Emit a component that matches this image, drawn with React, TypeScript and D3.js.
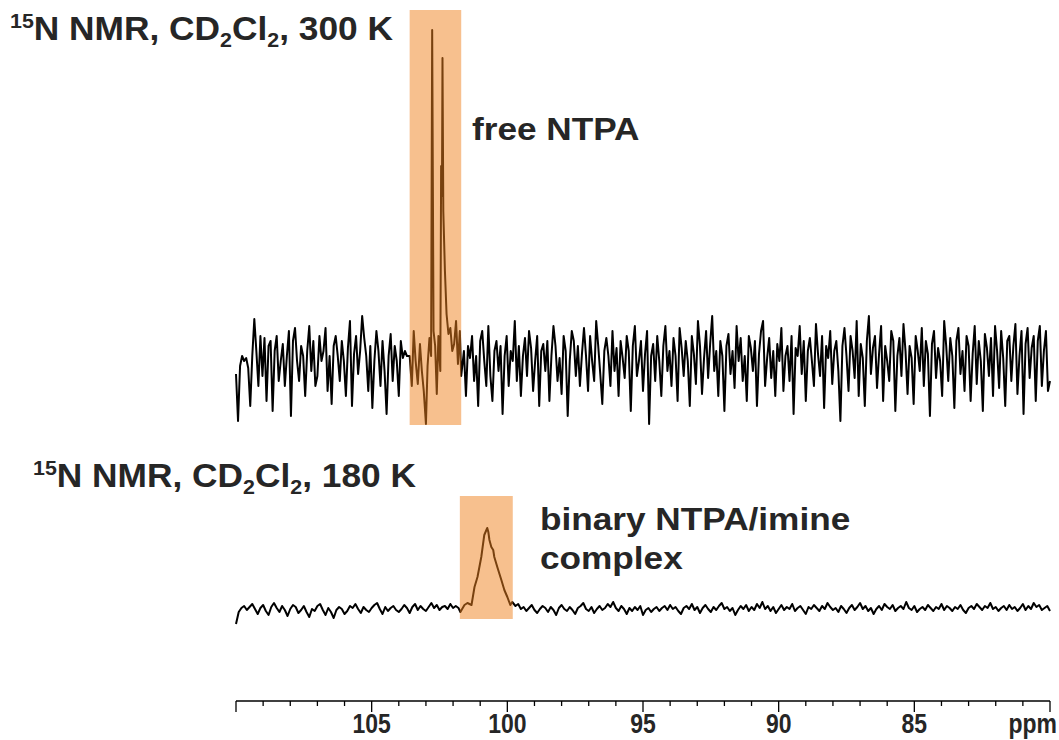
import React from "react";
import * as d3 from "d3";

// ---- data ----
const ppmDomain = [110, 80];
const tickLabels = [105, 100, 95, 90, 85];
const axisUnit = "ppm";

const topTitle = { sup: "15", parts: ["N NMR, CD", "2", "Cl", "2", ", 300 K"] };
const bottomTitle = { sup: "15", parts: ["N NMR, CD", "2", "Cl", "2", ", 180 K"] };
const topLabel = ["free NTPA"];
const bottomLabel = ["binary NTPA/imine", "complex"];

const topHighlight = [103.6, 101.7];
const bottomHighlight = [101.75, 99.8];

// top spectrum (300 K): noise from 110.0 ppm, step 0.075
const topStep = 0.075;
const topNoiseLeftStart = 110.0;
const topNoiseLeft = [
  -8, -55, 0, 10, 5, 8, -2, -40, 10, 47, 15, -20, 30, -10, 28, -35, 20, 25, -45, 15,
  30, -15, 5, 22, -20, 10, 35, -50, 25, 38, 5, -15, 20, 10, -30, 15, 40, -5, 25, -20,
  -10, 30, 5, 15, 38, -25, 10, -38, 20, 30, 10, -15, 25, 5, -30, 18, 45, -40, 12, 30,
  -8, 15, 50, 28, 10, -25, 20, -42, 5, 35, 15, -20, 25, -5, -48, 10, 32, -15, 20, 5,
  -30, 25, 8, 15, 10,
];
const topPeakPpm = [
  103.6, 103.52, 103.45, 103.38, 103.3, 103.22, 103.15, 103.08, 103.0, 102.94,
  102.87, 102.81, 102.77, 102.72, 102.66, 102.6, 102.54, 102.47, 102.44, 102.41,
  102.39, 102.36, 102.3, 102.24, 102.17, 102.1, 102.03, 101.96, 101.89, 101.82,
  101.75, 101.7,
];
const topPeakVal = [
  10, -20, 35, 5, -18, 22, -5, -25, -58, 0,
  28, 10, 336, 35, 20, -28, 30, -5, 200, 170,
  308, 155, 95, 52, 32, 38, 15, 22, 45, 2,
  35, -10,
];
const topNoiseRightStart = 101.6;
const topNoiseRight = [
  15, -30, 20, 8, 30, -15, 10, -40, 25, 35, 5, -20, 40, -10, -35, 15, 25, -5, 20, -48,
  10, 30, -20, 15, 5, 45, -15, 20, -30, 10, 28, -10, 35, 18, -25, 5, 30, -40, 15, 22,
  -5, 25, -35, 10, 40, 20, -15, 8, -28, 30, 15, -50, 5, 35, 25, -10, 20, -20, 12, 38,
  10, -25, 30, 5, -15, 45, 20, -8, -38, 15, 28, 10, -20, 35, -5, 18, -30, 25, 8, -12,
  30, 15, -45, 20, 40, -10, 5, 25, -25, 12, 35, -58, 10, 22, -15, 30, 5, -30, 20, 40,
  -5, 15, -20, 28, 10, -35, 38, 18, -10, 25, 5, -40, 30, 12, -18, 45, 20, -28, 8, 35,
  -12, 22, 50, -5, 15, -30, 25, 10, -45, 20, 32, -8, 15, -22, 40, 5, 28, -15, 10, -35,
  30, 18, -5, 25, -40, 12, 35, 45, -20, 8, 28, -12, 15, -30, 22, 5, 38, -25, 10, 20,
  -15, 30, -48, 18, 10, 40, -8, 25, -35, 15, 28, 5, -20, 42, 12, -10, 30, -42, 20, 8,
  35, -18, 15, 25, -5, -55, 20, 38, 10, -25, 30, 15, -12, 45, -30, 22, 8, -40, 25, 50,
  -8, 18, 30, -22, 12, 40, -35, 20, 5, -15, 35, 25, -45, 10, 28, -10, 42, 15, -28, 20,
  8, -38, 30, 15, -5, 38, -20, 25, 12, -50, 22, 35, -12, 18, 5, -30, 45, 20, -15, 28,
  10, -42, 25, 38, -8, 15, -25, 30, 20, -35, 12, 40, -18, 25, 5, -45, 32, 18, -10, 28,
  -30, 40, 15, -22, 35, 8, -40, 25, 30, -15, 20, 42, -28, 10, 35, -48, 22, 38, -12, 18,
  30, -35, 25, 40, -20, 15, 35, -25, -15,
];

// bottom spectrum (180 K): noise from 110.0 ppm, step 0.1
const botStep = 0.1;
const botNoiseLeftStart = 110.0;
const botNoiseLeft = [
  -12, 0, 4, 6, 2, 5, 8, 3, -2, 4, 7, 1, -3, 5, 9, 4, 0, 6, 2, -4,
  3, 7, 5, -1, 2, 6, 0, -5, 3, 1, 6, 8, 2, -3, 4, 0, -6, 2, 5, 3,
  -2, 1, 6, 4, 8, 3, -1, 5, 2, 0, 4, 7, 9, 3, -2, 5, 1, 4, 6, 2,
  0, 3, 7, 4, -1, 5, 8, 2, 6, 3, 1, 5, 9, 4, 7, 2, 5, 6, 3, 8,
  4, 6,
];
const botPeakPpm = [
  101.8, 101.73, 101.58, 101.47, 101.32, 101.21, 101.1, 100.96, 100.85, 100.74,
  100.7, 100.66, 100.59, 100.52, 100.48, 100.37, 100.22, 100.11, 100.0, 99.89,
  99.82,
];
const botPeakVal = [
  4, 0, 7, 9, 7, 25, 35, 55, 77, 84,
  80, 72, 65, 62, 55, 45, 32, 22, 15, 7,
  10,
];
const botNoiseRightStart = 99.7;
const botNoiseRight = [
  6, 8, 3, 5, 1, 4, 7, 2, -1, 3, 6, 4, 0, 5, 2, -3, 4, 7, 3, 1,
  5, 2, -2, 4, 6, 9, 3, 1, 5, -1, 3, 6, 2, 4, 8, 5, 10, 4, 1, 6,
  3, -2, 4, 1, 5, 2, 6, -3, 2, 4, 0, 3, 5, 1, 4, 6, 2, 7, 3, 5,
  1, -2, 4, 6, 3, 8, 2, 5, -1, 4, 7, 3, 0, 5, 2, 6, 9, 3, 5, 1,
  4, -3, 2, 6, 3, 7, 1, 5, 2, 8, 4, 10, 3, 6, 1, 5, -1, 3, 7, 2,
  5, 3, 8, 1, 4, 6, 2, -2, 5, 3, 7, 4, 1, 6, 3, 9, 5, 2, 4, 0,
  6, 3, -1, 4, 7, 2, 5, 9, 3, 6, 1, 4, -2, 3, 6, 2, 8, 5, 3, 7,
  1, 4, 6, 3, 10, 4, 2, 6, 0, 3, 5, 2, 7, 4, 1, 5, 3, 8, 2, 6,
  4, 1, 5, 3, 7, 2, -1, 4, 6, 3, 8, 5, 2, 6, 4, 9, 3, 5, 1, 4,
  6, 2, 7, 3, 5, 1, 4, 8, 2, 6, 3, 9, 5, 7, 2, 4, 6, 1,
];

// ---- helpers ----
type Pt = [number, number];
function sampled(start: number, step: number, vals: number[]): Pt[] {
  return vals.map((v, i) => [start - i * step, v] as Pt);
}
function paired(ppm: number[], vals: number[]): Pt[] {
  return ppm.map((p, i) => [p, vals[i]] as Pt);
}

const topSeries: Pt[] = [
  ...sampled(topNoiseLeftStart, topStep, topNoiseLeft),
  ...paired(topPeakPpm, topPeakVal),
  ...sampled(topNoiseRightStart, topStep, topNoiseRight),
];
const botSeries: Pt[] = [
  ...sampled(botNoiseLeftStart, botStep, botNoiseLeft),
  ...paired(botPeakPpm, botPeakVal),
  ...sampled(botNoiseRightStart, botStep, botNoiseRight),
];

const W = 1059;
const H = 740;
const TEXT = "#262626";
const FONT = "'Liberation Sans', Arial, sans-serif";

function Title({ x, y, t }: { x: number; y: number; t: typeof topTitle }) {
  return (
    <g transform={`translate(${x},${y}) scale(1.07,1)`}>
      <text x={0} y={0} fontFamily={FONT} fontWeight="bold" fontSize={33} fill={TEXT}>
        <tspan fontSize={20} dy={-12}>{t.sup}</tspan>
        <tspan dy={12}>{t.parts[0]}</tspan>
        <tspan fontSize={20} dy={7}>{t.parts[1]}</tspan>
        <tspan dy={-7}>{t.parts[2]}</tspan>
        <tspan fontSize={20} dy={7}>{t.parts[3]}</tspan>
        <tspan dy={-7}>{t.parts[4]}</tspan>
      </text>
    </g>
  );
}

export default function App() {
  const x = d3.scaleLinear().domain(ppmDomain).range([236, 1050]);
  const yTop = d3.scaleLinear().domain([0, 100]).range([366, 266]);
  const yBot = d3.scaleLinear().domain([0, 100]).range([612, 512]);

  const lineTop = d3
    .line<Pt>()
    .x((d) => x(d[0]))
    .y((d) => yTop(d[1]));
  const lineBot = d3
    .line<Pt>()
    .x((d) => x(d[0]))
    .y((d) => yBot(d[1]));

  const allTicks = x.ticks(30);
  const axisY = 701;

  const hlFill = "rgb(240,130,30)";
  const hlOpacity = 0.5;

  return (
    <svg
      width={W}
      height={H}
      style={{ position: "absolute", left: 0, top: 0, background: "#fff" }}
    >
      <rect x={0} y={0} width={W} height={H} fill="#fff" />

      {/* spectra */}
      <path d={lineTop(topSeries) || ""} fill="none" stroke="#000" strokeWidth={2} strokeLinejoin="round" />
      <path d={lineBot(botSeries) || ""} fill="none" stroke="#000" strokeWidth={2} strokeLinejoin="round" />

      {/* highlight boxes */}
      <rect
        x={x(topHighlight[0])}
        width={x(topHighlight[1]) - x(topHighlight[0])}
        y={yTop(356)}
        height={yTop(-59) - yTop(356)}
        fill={hlFill}
        opacity={hlOpacity}
      />
      <rect
        x={x(bottomHighlight[0])}
        width={x(bottomHighlight[1]) - x(bottomHighlight[0])}
        y={yBot(116)}
        height={yBot(-7) - yBot(116)}
        fill={hlFill}
        opacity={hlOpacity}
      />

      {/* titles */}
      <Title x={10} y={40} t={topTitle} />
      <Title x={33} y={487} t={bottomTitle} />

      {/* annotations */}
      <g transform="translate(472,140) scale(1.1,1)">
        <text fontFamily={FONT} fontWeight="bold" fontSize={32} fill={TEXT}>
          {topLabel[0]}
        </text>
      </g>
      <g transform="translate(540,530) scale(1.1,1)">
        <text fontFamily={FONT} fontWeight="bold" fontSize={32} fill={TEXT}>
          <tspan x={0} dy={0}>{bottomLabel[0]}</tspan>
          <tspan x={0} dy={39}>{bottomLabel[1]}</tspan>
        </text>
      </g>

      {/* axis */}
      <line x1={x(ppmDomain[0])} x2={x(ppmDomain[1])} y1={axisY} y2={axisY} stroke="#000" strokeWidth={1.5} />
      {allTicks.map((t) => {
        const major = t % 5 === 0;
        return (
          <line
            key={t}
            x1={x(t)}
            x2={x(t)}
            y1={axisY}
            y2={axisY + (major ? 11 : 5)}
            stroke="#000"
            strokeWidth={1.3}
          />
        );
      })}
      {tickLabels.map((t) => (
        <g key={t} transform={`translate(${x(t)},733) scale(0.82,1)`}>
          <text textAnchor="middle" fontFamily={FONT} fontWeight="bold" fontSize={28} fill={TEXT}>
            {t}
          </text>
        </g>
      ))}
      <g transform="translate(1057,733) scale(0.82,1)">
        <text textAnchor="end" fontFamily={FONT} fontWeight="bold" fontSize={28} fill={TEXT}>
          {axisUnit}
        </text>
      </g>
    </svg>
  );
}
